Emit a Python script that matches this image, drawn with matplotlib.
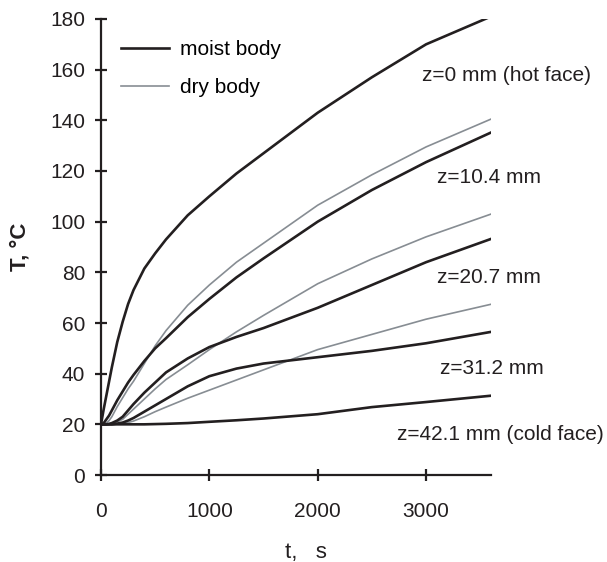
import numpy as np
import matplotlib
matplotlib.use("Agg")
from matplotlib import pyplot as plt

plt.rcParams['font.family'] = ['Liberation Sans', 'DejaVu Sans']

# tiempo, s
t = [0, 25, 50, 75, 100, 150, 200, 250, 300, 400, 500, 600, 800, 1000, 1250, 1500, 2000, 2500, 3000, 3600]

# moist body (black)
moist_z0 = [20, 26, 31.5, 37, 42.5, 52.5, 60.5, 67.5, 73, 81.5, 87.5, 93, 102.5, 110, 119, 127, 143, 157, 170, 181]
moist_z10 = [20, 20.5, 22, 23.5, 25.5, 29.5, 33, 36.5, 39.5, 45, 50, 54, 62.3, 69.5, 78, 85.5, 100, 112.5, 123.5, 135.2]
moist_z20 = [20, 20, 20, 20.2, 20.5, 21.5, 23, 25.5, 28, 32.5, 36.5, 40.5, 46, 50.5, 54.5, 58, 66, 75, 84, 93.2]
moist_z31 = [20, 20, 20, 20, 20, 20.3, 20.7, 21.5, 22.5, 25, 27.5, 30, 35, 39, 42, 44, 46.5, 49, 52, 56.5]
moist_z42 = [20, 20, 20, 20, 20, 20, 20, 20, 20, 20, 20.1, 20.2, 20.5, 21, 21.6, 22.3, 24, 26.8, 28.8, 31.3]

# dry body (gray)
dry_z10 = [20, 20.2, 20.5, 21.5, 23, 27, 30.5, 34, 37, 44, 51, 57, 67, 75, 84, 91.5, 106.5, 118.5, 129.5, 140.5]
dry_z20 = [20, 20, 20, 20.1, 20.2, 21, 22, 24, 26, 30, 34, 37.7, 43.5, 49.5, 56.5, 63, 75.5, 85.3, 94, 103]
dry_z31 = [20, 20, 20, 20, 20, 20.1, 20.3, 20.7, 21.3, 23, 25, 26.8, 30.3, 33.5, 37.5, 41.5, 49.5, 55.5, 61.5, 67.4]

etiquetas = ["z=0 mm (hot face)", "z=10.4 mm", "z=20.7 mm", "z=31.2 mm", "z=42.1 mm (cold face)"]
pos_etiquetas = [(2967, 157.5), (3105, 117.4), (3105, 78), (3133, 42.2), (2735, 15.8)]

negro = '#231f20'
gris = '#878d93'

fig = plt.figure(figsize=(6.07, 5.62), dpi=100)
ax = fig.add_axes([0.1664, 0.1548, 0.6426, 0.8114])

ax.plot(t, moist_z0, color=negro, lw=1.9, label="moist body")
ax.plot(t, dry_z10, color=gris, lw=1.2, label="dry body")
ax.plot(t, dry_z20, color=gris, lw=1.2)
ax.plot(t, dry_z31, color=gris, lw=1.2)
for serie in [moist_z10, moist_z20, moist_z31, moist_z42]:
    ax.plot(t, serie, color=negro, lw=1.9)

for texto, (x, y) in zip(etiquetas, pos_etiquetas):
    ax.text(x, y, texto, fontsize=15, color=negro, va='center', ha='left', clip_on=False)

ax.set_xlim(0, 3600)
ax.set_ylim(0, 180)
ax.set_xticks([0, 1000, 2000, 3000])
ax.set_yticks(range(0, 181, 20))

for lado in ['top', 'right']:
    ax.spines[lado].set_visible(False)
for lado in ['left', 'bottom']:
    ax.spines[lado].set_linewidth(1.6)
    ax.spines[lado].set_color(negro)

ax.tick_params(axis='both', direction='inout', length=9, width=1.6, color=negro,
               labelsize=15, labelcolor=negro)
ax.tick_params(axis='x', pad=15)
ax.tick_params(axis='y', pad=7)

ax.set_xlabel("t,   s", fontsize=16, color=negro, labelpad=15, x=0.525)
ax.set_ylabel("T, °C", fontsize=16, fontweight='bold', color=negro, labelpad=14)

ax.legend(loc='upper left', bbox_to_anchor=(0.024, 0.976), frameon=False, fontsize=15,
          handlelength=2.3, handletextpad=0.55, labelspacing=0.9, borderpad=0)

fig.savefig("out.png", dpi=100)
